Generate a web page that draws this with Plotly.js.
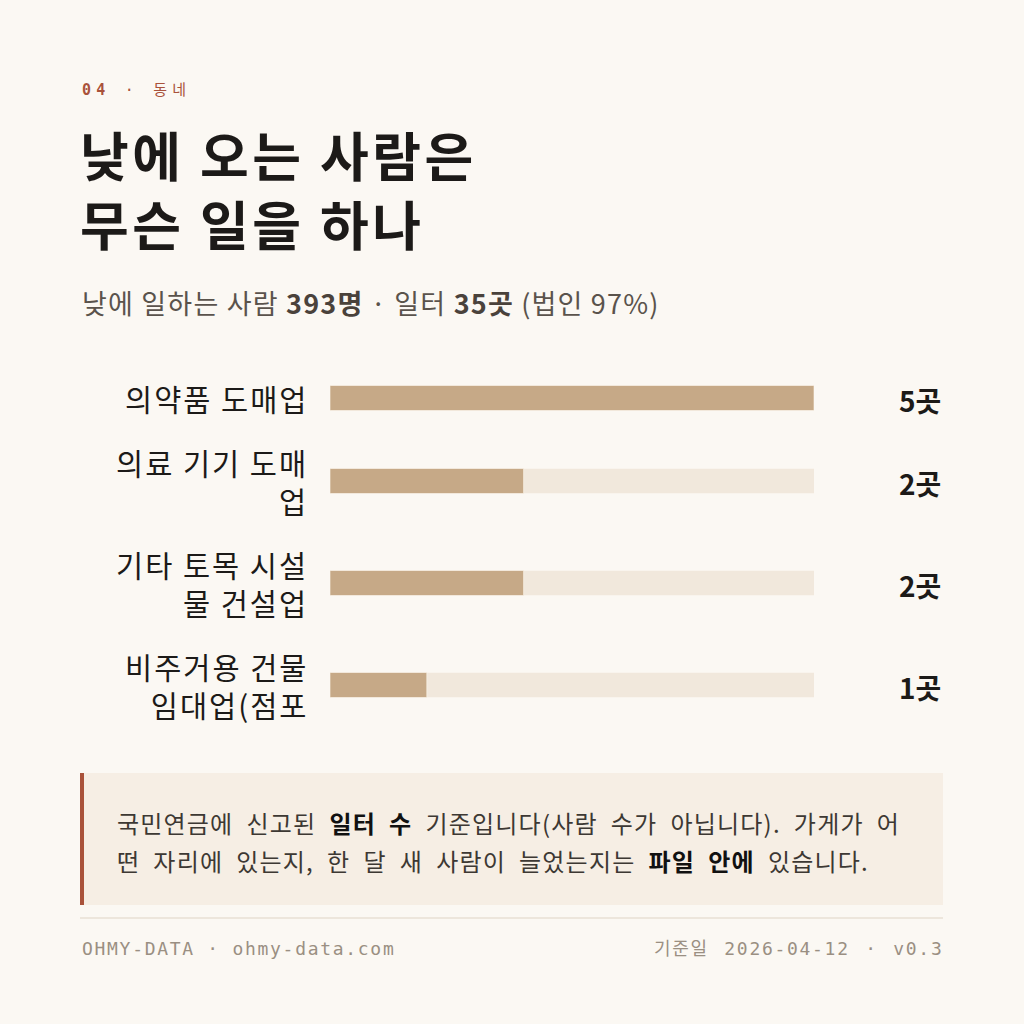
<!DOCTYPE html>
<html><head><meta charset="utf-8">
<script src="https://cdn.plot.ly/plotly-3.0.1.min.js"></script>
<style>html,body{margin:0;padding:0;background:#fbf8f3;} #chart{width:1024px;height:1024px;}</style>
</head><body><div id="chart"></div>
<script>
// ---- data ----
const categories = ["의약품 도매업", "의료 기기 도매업", "기타 토목 시설물 건설업", "비주거용 건물 임대업(점포"];
const labelLines = [["의약품 도매업"], ["의료 기기 도매", "업"], ["기타 토목 시설", "물 건설업"], ["비주거용 건물", "임대업(점포"]];
const values = [5, 2, 2, 1];
const unit = "곳";
const kickerNum = "04";
const kickerLabel = "동네";
const titleLines = ["낮에 오는 사람은", "무슨 일을 하나"];
const peopleCount = 393;
const workplaceCount = 35;
const corpShare = 97;
const noteLines = [
  "국민연금에 신고된 <b>일터 수</b> 기준입니다(사람 수가 아닙니다). 가게가 어",
  "떤 자리에 있는지, 한 달 새 사람이 늘었는지는 <b>파일 안에</b> 있습니다."
];
const footerLeft = "OHMY-DATA · ohmy-data.com";
const footerRight = "기준일 2026-04-12 · v0.3";

// ---- layout helpers ----
const W = 1024, H = 1024;
const px = v => v / W;
const py = v => 1 - v / H;
const KR = "'Noto Sans CJK KR', 'Noto Sans', sans-serif";
const MONO = "'DejaVu Sans Mono', 'Liberation Mono', 'Noto Sans CJK KR', monospace";
const BAR = "#c6a987", TRACK = "#f1e8dc", INK = "#1c1a18";
const LABEL_SIZE = 29.5, ROW_GAP = 26, BAR_H = 25;
const plotLeft = 330, plotRight = 814, labelRight = 308, valueRight = 943;
const sp = (t, ls, ws) => `<span style="letter-spacing:${ls}px;word-spacing:${ws || 0}px">${t}</span>`;
const strong = (t, col) => `<b><span style="color:${col}">${t}</span></b>`;

const maxV = Math.max(...values);
const traces = [];
const annotations = [];
const layout = {
  width: W, height: H,
  margin: {l: 0, r: 0, t: 0, b: 0},
  paper_bgcolor: "#fbf8f3", plot_bgcolor: "rgba(0,0,0,0)",
  showlegend: false, barmode: "overlay",
  xaxis: {domain: [px(plotLeft), px(plotRight)], range: [0, maxV], visible: false, fixedrange: true},
  shapes: [], annotations: annotations
};

let rowTop = 366;
categories.forEach((cat, i) => {
  const n = labelLines[i].length;
  const rowH = n * 38 + ROW_GAP;
  const c = rowTop + rowH / 2;
  rowTop += rowH;
  const ax = i === 0 ? "y" : "y" + (i + 1);
  const axKey = i === 0 ? "yaxis" : "yaxis" + (i + 1);
  layout[axKey] = {domain: [py(c + BAR_H / 2), py(c - BAR_H / 2)], type: "category",
    range: [-0.5, 0.5], visible: false, fixedrange: true, anchor: "x"};
  traces.push({type: "bar", orientation: "h", x: [maxV], y: [cat], yaxis: ax, xaxis: "x",
    width: 1, marker: {color: TRACK, line: {width: 0}}, hoverinfo: "skip"});
  traces.push({type: "bar", orientation: "h", x: [values[i]], y: [cat], yaxis: ax, xaxis: "x",
    width: 1, marker: {color: BAR, line: {width: 1, color: "rgba(255,250,240,0.6)"}}, hoverinfo: "skip"});
  annotations.push({xref: "paper", yref: ax, x: px(labelRight + 2), y: cat, xanchor: "right", yanchor: "middle",
    align: "right", text: labelLines[i].map(ln => sp(ln, 2)).join("<br>"), showarrow: false,
    font: {family: KR, size: LABEL_SIZE, color: INK}});
  annotations.push({xref: "paper", yref: ax, x: px(valueRight), y: cat, xanchor: "right", yanchor: "middle",
    yshift: -2, text: "<b>" + values[i] + unit + "</b>", showarrow: false,
    font: {family: KR, size: 28, color: INK}});
});

// header
annotations.push({xref: "paper", yref: "paper", x: px(80), y: py(90), xanchor: "left", yanchor: "middle",
  text: sp("<b>" + kickerNum + "</b> · " + kickerLabel, 5.2), showarrow: false,
  font: {family: MONO, size: 15, color: "#a9523a"}});
annotations.push({xref: "paper", yref: "paper", x: px(78), y: py(188), xanchor: "left", yanchor: "middle",
  align: "left", text: titleLines.map(t => sp("<b>" + t + "</b>", 3.5)).join("<br>"), showarrow: false,
  font: {family: KR, size: 53, color: INK}});
annotations.push({xref: "paper", yref: "paper", x: px(80), y: py(302), xanchor: "left", yanchor: "middle",
  text: sp("낮에 일하는 사람 " + strong(peopleCount + "명", "#4a423b") + " · 일터 " +
    strong(workplaceCount + unit, "#4a423b") + " (법인 " + corpShare + "%)", 1.2),
  showarrow: false, font: {family: KR, size: 27, color: "#5a534c"}});

// note box
layout.shapes.push({type: "rect", xref: "paper", yref: "paper", x0: px(80), x1: px(943), y0: py(905), y1: py(773),
  fillcolor: "#f6eee4", line: {width: 0}, layer: "below"});
layout.shapes.push({type: "rect", xref: "paper", yref: "paper", x0: px(80), x1: px(84), y0: py(905), y1: py(773),
  fillcolor: "#a9523a", line: {width: 0}, layer: "below"});
noteLines.forEach((t, j) => {
  annotations.push({xref: "paper", yref: "paper", x: px(115), y: py(822 + j * 38), xanchor: "left", yanchor: "middle",
    text: sp(t.replace(/<b>(.*?)<\/b>/g, (m, s) => strong(s, "#111")), 1.2, 6.5),
    showarrow: false, font: {family: KR, size: 24, color: "#3d3833"}});
});
// divider
layout.shapes.push({type: "line", xref: "paper", yref: "paper", x0: px(80), x1: px(943), y0: py(918), y1: py(918),
  line: {color: "#e8e1d5", width: 1.5}});
// footer
annotations.push({xref: "paper", yref: "paper", x: px(80), y: py(948), xanchor: "left", yanchor: "middle",
  text: sp(footerLeft, 1.7), showarrow: false, font: {family: MONO, size: 18, color: "#9a8f82"}});
annotations.push({xref: "paper", yref: "paper", x: px(945), y: py(948), xanchor: "right", yanchor: "middle",
  text: sp(footerRight, 1.7, 3), showarrow: false, font: {family: MONO, size: 18, color: "#9a8f82"}});

Plotly.newPlot("chart", traces, layout, {displayModeBar: false, staticPlot: true});
</script></body></html>
